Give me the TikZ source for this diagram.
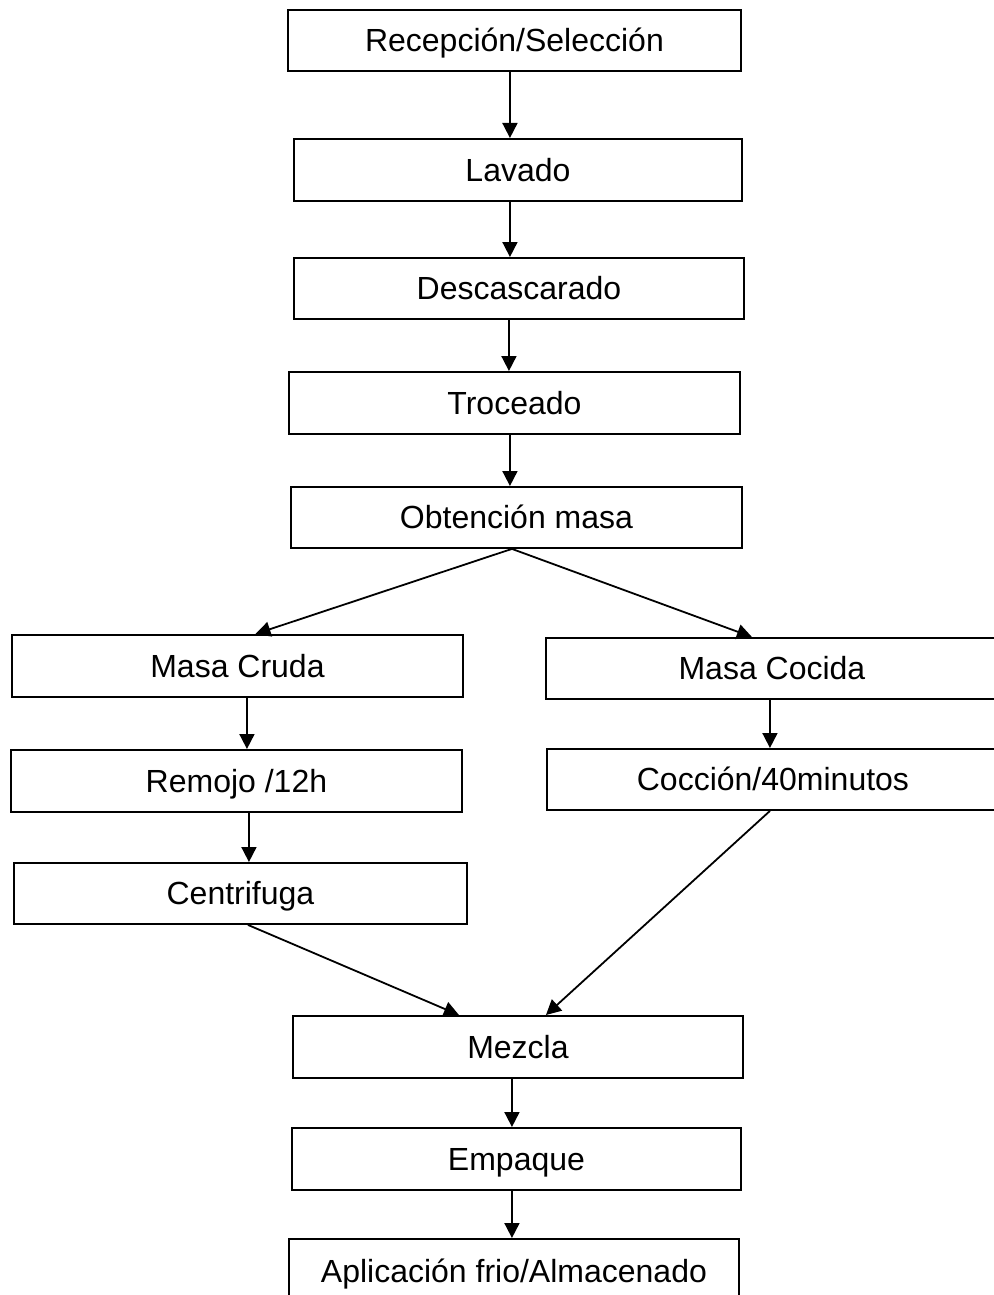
\documentclass[tikz,border=0pt]{standalone}
\usepackage{fontspec}
\setmainfont{Liberation Sans}
\usetikzlibrary{arrows.meta,calc}
\begin{document}
\begin{tikzpicture}[x=1pt,y=1pt,
  box/.style={draw=black,line width=1.9pt,anchor=north west,inner sep=0pt,
    minimum height=61pt,text height=23pt,text depth=0pt,
    font=\fontsize{32}{38}\selectfont},
  arr/.style={line width=1.8pt,-{Triangle[length=15pt,width=15pt]}}]
\useasboundingbox (0,0) rectangle (993,-1295);
\node[box,minimum width=453pt] (rec) at (287,-9) {Recepción/Selección};
\node[box,minimum width=448pt,minimum height=62pt] (lav) at (293,-138) {Lavado};
\node[box,minimum width=450pt] (des) at (293,-257) {Descascarado};
\node[box,minimum width=451pt,minimum height=62pt] (tro) at (288,-371) {Troceado};
\node[box,minimum width=451pt] (obt) at (290,-486) {Obtención masa};
\node[box,minimum width=451pt,minimum height=62pt] (cru) at (11,-634) {Masa Cruda};
\node[box,minimum width=452pt] (coc) at (545,-637) {Masa Cocida};
\node[box,minimum width=451pt,minimum height=62pt] (rem) at (10,-749) {Remojo /12h};
\node[box,minimum width=452pt] (cocc) at (546,-748) {Cocción/40minutos};
\node[box,minimum width=453pt] (cen) at (13,-862) {Centrifuga};
\node[box,minimum width=450pt,minimum height=62pt] (mez) at (292,-1015) {Mezcla};
\node[box,minimum width=449pt,minimum height=62pt] (emp) at (291,-1127) {Empaque};
\node[box,minimum width=450pt,minimum height=64pt] (apl) at (288,-1238) {Aplicación frio/Almacenado};
\draw[arr] ([xshift=-4.5pt]rec.south) -- ([xshift=-4.5pt]rec.south |- lav.north);
\draw[arr] ([xshift=-8pt]lav.south) -- ([xshift=-8pt]lav.south |- des.north);
\draw[arr] ([xshift=-10pt]des.south) -- ([xshift=-10pt]des.south |- tro.north);
\draw[arr] ([xshift=-4.5pt]tro.south) -- ([xshift=-4.5pt]tro.south |- obt.north);
\coordinate (split) at ([xshift=-4.5pt]obt.south);
\draw[arr] (split) -- ([xshift=18pt]cru.north);
\draw[arr] (split) -- ([xshift=-20pt]coc.north);
\draw[arr] ([xshift=9.5pt]cru.south) -- ([xshift=9.5pt]cru.south |- rem.north);
\draw[arr] ([xshift=12.5pt]rem.south) -- ([xshift=12.5pt]rem.south |- cen.north);
\draw[arr] ([xshift=-2pt]coc.south) -- ([xshift=-2pt]coc.south |- cocc.north);
\draw[arr] ([xshift=7.5pt]cen.south) -- ([xshift=-59pt]mez.north);
\draw[arr] ([xshift=-3pt]cocc.south) -- ([xshift=28pt]mez.north);
\draw[arr] ([xshift=-6pt]mez.south) -- ([xshift=-6pt]mez.south |- emp.north);
\draw[arr] ([xshift=-4.5pt]emp.south) -- ([xshift=-4.5pt]emp.south |- apl.north);
\end{tikzpicture}
\end{document}
